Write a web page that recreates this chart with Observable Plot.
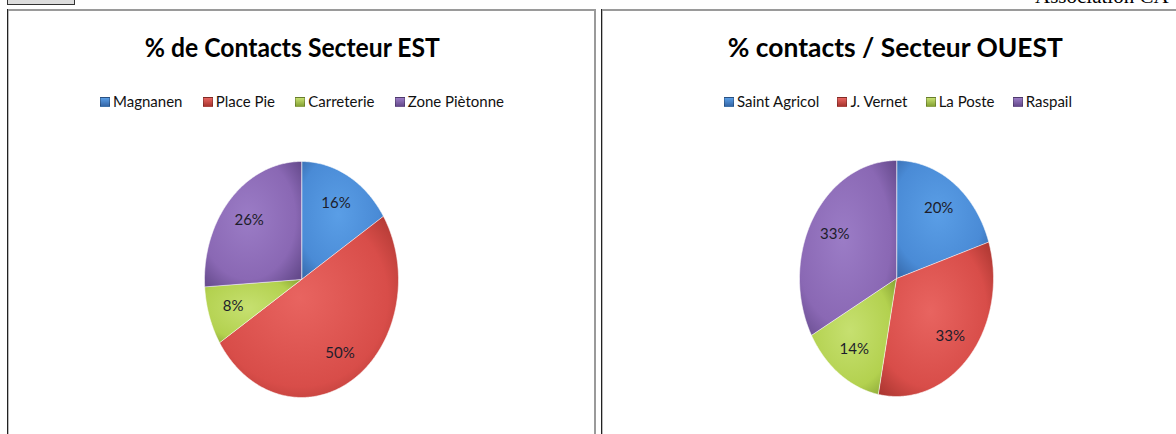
<!DOCTYPE html>
<html><head><meta charset="utf-8">
<script src="https://cdn.jsdelivr.net/npm/d3@7"></script>
<script src="https://cdn.jsdelivr.net/npm/@observablehq/plot@0.6"></script>
<style>
html,body{margin:0;padding:0;background:#fff}
body{width:1176px;height:434px;overflow:hidden;position:relative;font-family:Lato,"Noto Sans",sans-serif}
.abs{position:absolute}
.title{position:absolute;font-weight:700;font-size:27px;line-height:27px;color:#000;white-space:nowrap;transform-origin:center}
.legend{position:absolute;display:flex;gap:19px;font-size:15px;line-height:15px;color:#111;white-space:nowrap}
.legend span.item{display:flex;align-items:center}
.legend i{display:inline-block;width:8px;height:8px;margin-right:3px;border:0.5px solid rgba(0,0,0,0.25)}
</style></head><body>
<svg width="0" height="0" style="position:absolute"><defs id="defs"></defs></svg>

<div class="abs" style="left:7px;top:-4px;width:66px;height:7px;background:#ddd;border:1px solid #333"></div>
<div class="abs" style="left:1035px;top:-14px;font-family:'Liberation Serif',serif;font-size:21px;line-height:21px;color:#000;white-space:nowrap">Association CA</div>

<!-- table borders -->
<div class="abs" style="left:7px;top:9px;width:589px;height:2px;background:#9a9a9a"></div>
<div class="abs" style="left:7px;top:9px;width:1px;height:425px;background:#222"></div>
<div class="abs" style="left:8px;top:11px;width:1px;height:423px;background:#bbb"></div>
<div class="abs" style="left:594px;top:9px;width:2px;height:425px;background:#9a9a9a"></div>
<div class="abs" style="left:601px;top:9px;width:575px;height:2px;background:#9a9a9a"></div>
<div class="abs" style="left:601px;top:9px;width:1px;height:425px;background:#222"></div>
<div class="abs" style="left:602px;top:11px;width:1px;height:423px;background:#bbb"></div>

<div id="t1" class="title"></div>
<div id="t2" class="title"></div>
<div id="l1" class="legend"></div>
<div id="l2" class="legend"></div>
<div id="p1" class="abs" style="left:9px;top:140px"></div>
<div id="p2" class="abs" style="left:603px;top:140px"></div>

<script>
// ---- data ----
const estCategories = ["Magnanen", "Place Pie", "Carreterie", "Zone Piètonne"];
const estValues = [16, 50, 8, 26];
const ouestCategories = ["Saint Agricol", "J. Vernet", "La Poste", "Raspail"];
const ouestValues = [20, 33, 14, 33];
const estTitle = "% de Contacts Secteur EST";
const ouestTitle = "% contacts / Secteur OUEST";

// ---- styles ----
const palette = [
  {id: "gBlue", light: "#5a9ee6", mid: "#4a8bd6", dark: "#3567a8"},
  {id: "gRed", light: "#e86460", mid: "#d84d49", dark: "#a8352f"},
  {id: "gGreen", light: "#c6e070", mid: "#b3d14f", dark: "#86a334"},
  {id: "gPurple", light: "#9b7cc6", mid: "#8a68b4", dark: "#654a8c"}
];

const defs = document.getElementById("defs");
const ns = "http://www.w3.org/2000/svg";
for (const p of palette) {
  const g = document.createElementNS(ns, "radialGradient");
  g.setAttribute("id", p.id);
  g.setAttribute("cx", "45%"); g.setAttribute("cy", "45%"); g.setAttribute("r", "70%");
  [[0, p.light], [0.7, p.mid], [1, p.dark]].forEach(([o, c]) => {
    const s = document.createElementNS(ns, "stop");
    s.setAttribute("offset", o); s.setAttribute("stop-color", c);
    g.appendChild(s);
  });
  defs.appendChild(g);
}

function legend(el, cats, centerX, top, targetW) {
  cats.forEach((c, i) => {
    const it = document.createElement("span");
    it.className = "item";
    const m = document.createElement("i");
    m.style.background = `linear-gradient(${palette[i].light}, ${palette[i].dark})`;
    it.appendChild(m);
    it.appendChild(document.createTextNode(c));
    el.appendChild(it);
  });
  el.style.top = top + "px";
  let w = el.getBoundingClientRect().width;
  if (targetW) {
    const g = 19 + (targetW - w) / (cats.length - 1);
    el.style.gap = g + "px";
    w = el.getBoundingClientRect().width;
  }
  el.style.left = (centerX - w / 2) + "px";
}
function title(el, text, centerX, top, targetW) {
  el.textContent = text;
  el.style.top = top + "px";
  const w = el.getBoundingClientRect().width;
  el.style.left = (centerX - w / 2) + "px";
  if (targetW) el.style.transform = `scaleX(${targetW / w})`;
}

function pie(el, cats, vals, width, cx, cy) {
  const total = d3.sum(vals);
  let acc = 0;
  const slices = vals.map((v, i) => {
    const a0 = acc / total * 2 * Math.PI;
    acc += v;
    const a1 = acc / total * 2 * Math.PI;
    return {name: cats[i], value: v, a0, a1, i};
  });
  const marks = slices.map(s => {
    const n = Math.max(2, Math.ceil((s.a1 - s.a0) / 0.01));
    const pts = [{x: 0, y: 0}];
    for (let k = 0; k <= n; k++) {
      const t = s.a0 + (s.a1 - s.a0) * k / n;
      pts.push({x: Math.sin(t), y: Math.cos(t)});
    }
    return Plot.line(pts, {x: "x", y: "y", curve: "linear-closed",
      fill: `url(#${palette[s.i].id})`, stroke: "rgba(255,255,255,0.55)", strokeWidth: 1});
  });
  const labels = slices.map(s => {
    const m = (s.a0 + s.a1) / 2;
    return {x: 0.74 * Math.sin(m), y: 0.74 * Math.cos(m), text: s.value + "%"};
  });
  marks.push(Plot.text(labels, {x: "x", y: "y", text: "text", fontSize: 15, fill: "#1d1d2b",
    fontFamily: "Lato, sans-serif"}));
  const chart = Plot.plot({
    width, height: 290, margin: 0,
    x: {domain: [-1, 1], range: [cx - 97, cx + 97], axis: null},
    y: {domain: [-1, 1], range: [cy + 118, cy - 118], axis: null},
    style: {background: "transparent", overflow: "visible"},
    marks
  });
  el.appendChild(chart);
}

title(document.getElementById("t1"), estTitle, 292, 33, 295);
title(document.getElementById("t2"), ouestTitle, 895, 33, 335);
legend(document.getElementById("l1"), estCategories, 302, 94, 404);
legend(document.getElementById("l2"), ouestCategories, 898, 94, 348);
pie(document.getElementById("p1"), estCategories, estValues, 585, 292, 139);
pie(document.getElementById("p2"), ouestCategories, ouestValues, 573, 293, 138);
</script>
</body></html>
